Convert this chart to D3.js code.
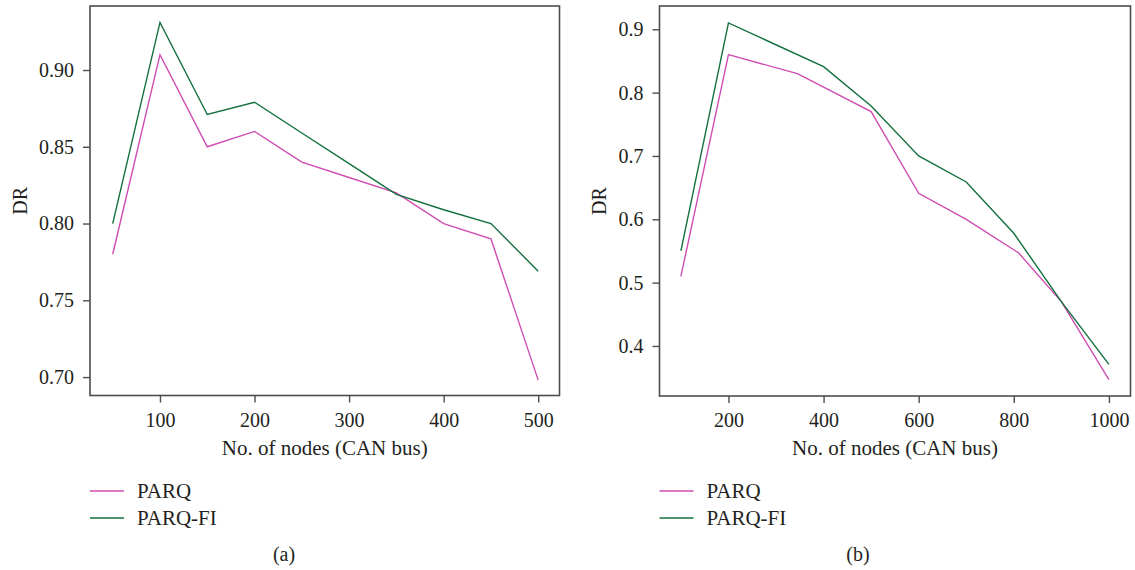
<!DOCTYPE html>
<html>
<head>
<meta charset="utf-8">
<script src="https://cdn.jsdelivr.net/npm/d3@7"></script>
<style>
  html, body { margin: 0; padding: 0; background: #fff; }
  svg { display: block; }
  text { font-family: "Liberation Serif", "DejaVu Serif", serif; fill: #231f20; }
</style>
</head>
<body>
<svg id="fig" width="1135" height="570"></svg>
<script>
// Panel (a): detection rate vs. number of nodes, up to 500
const nodesA      = [50, 100, 150, 200, 250, 300, 350, 400, 450, 500];
const parqA       = [0.780, 0.910, 0.850, 0.860, 0.840, 0.830, 0.820, 0.800, 0.790, 0.698];
const parqFiA     = [0.800, 0.931, 0.871, 0.879, 0.859, 0.839, 0.819, 0.809, 0.800, 0.769];

// Panel (b): detection rate vs. number of nodes, up to 1000
const nodesParqB  = [100, 200, 345, 500, 600, 700, 810, 900, 1000];
const parqB       = [0.510, 0.860, 0.830, 0.770, 0.641, 0.600, 0.547, 0.470, 0.347];
const nodesFiB    = [100, 200, 400, 500, 600, 700, 800, 900, 1000];
const parqFiB     = [0.550, 0.910, 0.841, 0.779, 0.700, 0.659, 0.578, 0.470, 0.371];

const xTicksA = [100, 200, 300, 400, 500];
const yTicksA = [0.70, 0.75, 0.80, 0.85, 0.90];
const xTicksB = [200, 400, 600, 800, 1000];
const yTicksB = [0.4, 0.5, 0.6, 0.7, 0.8, 0.9];

const seriesNames = ["PARQ", "PARQ-FI"];
const colors = { "PARQ": "#cf4db2", "PARQ-FI": "#12703d" };

const svg = d3.select("#fig");
const AXIS = "#4d4d4d";
const FONT = "Liberation Serif, DejaVu Serif, serif";

function panel(cfg) {
  const x = d3.scaleLinear().domain(cfg.xDomain).range([cfg.left, cfg.right]);
  const y = d3.scaleLinear().domain(cfg.yDomain).range([cfg.bottom, cfg.top]);
  const g = svg.append("g");

  // frame
  g.append("rect")
    .attr("x", cfg.left).attr("y", cfg.top)
    .attr("width", cfg.right - cfg.left).attr("height", cfg.bottom - cfg.top)
    .attr("fill", "none").attr("stroke", AXIS).attr("stroke-width", 1.6);

  // y axis
  const ya = g.append("g")
    .attr("transform", `translate(${cfg.left},0)`)
    .call(d3.axisLeft(y).tickValues(cfg.yTicks).tickFormat(d3.format(cfg.yFmt))
      .tickSize(7).tickSizeOuter(0).tickPadding(9));
  ya.select(".domain").remove();
  ya.selectAll(".tick line").attr("stroke", AXIS).attr("stroke-width", 1.4);
  ya.selectAll(".tick text").attr("font-size", 20)
    .attr("font-family", FONT).attr("fill", "#231f20");

  // x axis
  const xa = g.append("g")
    .attr("transform", `translate(0,${cfg.bottom})`)
    .call(d3.axisBottom(x).tickValues(cfg.xTicks).tickFormat(d3.format("d"))
      .tickSize(7).tickSizeOuter(0).tickPadding(10));
  xa.select(".domain").remove();
  xa.selectAll(".tick line").attr("stroke", AXIS).attr("stroke-width", 1.4);
  xa.selectAll(".tick text").attr("font-size", 20)
    .attr("font-family", FONT).attr("fill", "#231f20");

  // axis titles
  g.append("text")
    .attr("x", (cfg.left + cfg.right) / 2).attr("y", 455)
    .attr("text-anchor", "middle").attr("font-size", 21)
    .text("No. of nodes (CAN bus)");
  g.append("text")
    .attr("transform", `translate(${cfg.ylabX},${(cfg.top + cfg.bottom) / 2}) rotate(-90)`)
    .attr("text-anchor", "middle").attr("font-size", 20)
    .text("DR");

  // series lines
  const line = d3.line().x(d => x(d[0])).y(d => y(d[1]));
  cfg.series.forEach(s => {
    g.append("path")
      .datum(d3.zip(s.xs, s.ys))
      .attr("fill", "none")
      .attr("stroke", colors[s.name])
      .attr("stroke-width", 1.4)
      .attr("stroke-linejoin", "miter")
      .attr("d", line);
  });

  // legend
  seriesNames.forEach((name, i) => {
    const ly = 491 + i * 27;
    g.append("line")
      .attr("x1", cfg.left).attr("x2", cfg.left + 34)
      .attr("y1", ly).attr("y2", ly)
      .attr("stroke", colors[name]).attr("stroke-width", 1.4);
    g.append("text")
      .attr("x", cfg.left + 47).attr("y", ly + 7)
      .attr("font-size", 21)
      .text(name);
  });

  // panel tag
  g.append("text")
    .attr("x", cfg.tagX).attr("y", 561)
    .attr("text-anchor", "middle").attr("font-size", 20)
    .text(cfg.tag);
}

panel({
  left: 90, right: 559.5, top: 6, bottom: 395.5, ylabX: 26.5,
  xDomain: [26, 522.5], yDomain: [0.688, 0.9417],
  xTicks: xTicksA, yTicks: yTicksA, yFmt: ".2f",
  series: [
    { name: "PARQ", xs: nodesA, ys: parqA },
    { name: "PARQ-FI", xs: nodesA, ys: parqFiA }
  ],
  tag: "(a)", tagX: 284
});

panel({
  left: 659.5, right: 1130.5, top: 6, bottom: 396, ylabX: 605.5,
  xDomain: [55, 1045.4], yDomain: [0.321, 0.9368],
  xTicks: xTicksB, yTicks: yTicksB, yFmt: ".1f",
  series: [
    { name: "PARQ", xs: nodesParqB, ys: parqB },
    { name: "PARQ-FI", xs: nodesFiB, ys: parqFiB }
  ],
  tag: "(b)", tagX: 858
});
</script>
</body>
</html>
